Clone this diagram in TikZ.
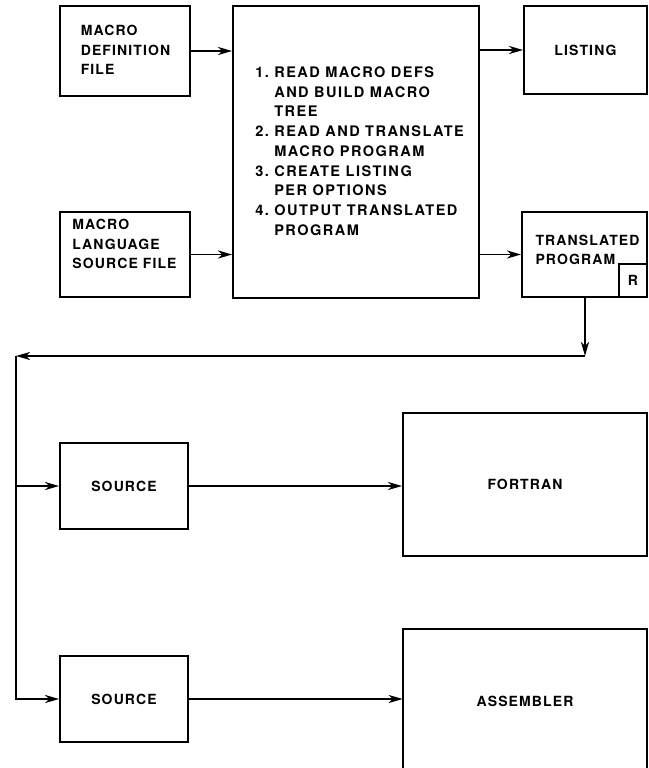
\documentclass[tikz,border=0pt]{standalone}
\usepackage{fontspec}
\setmainfont{TeX Gyre Heros}[LetterSpace=8]
\usetikzlibrary{arrows.meta}
\begin{document}
\begin{tikzpicture}[x=0.75pt,y=-0.75pt,
  box/.style={draw, line width=1.4pt, inner sep=0pt},
  txt/.style={inner sep=0pt, align=left, font=\fontsize{10.5pt}{14.4pt}\selectfont\bfseries},
  arr/.style={line width=1.4pt, -{Stealth[length=10.5pt,width=6pt,inset=3pt]}},
  ln/.style={line width=1.4pt}]
\useasboundingbox (0,0) rectangle (649,768);

% boxes
\node[box, minimum width=130*0.75pt, minimum height=90*0.75pt] (mdef) at (125,51) {};
\node[txt] (mdefT) at (125.5,50) {MACRO\\DEFINITION\\FILE};

\node[box, minimum width=130*0.75pt, minimum height=85*0.75pt] (mlang) at (125,254.5) {};
\node[txt] (mlangT) at (124.5,244) {MACRO\\LANGUAGE\\SOURCE FILE};

\node[box, minimum width=246*0.75pt, minimum height=292*0.75pt] (central) at (356,152) {};
\node[txt, anchor=west, font=\fontsize{10.9pt}{14.8pt}\selectfont\bfseries\addfontfeature{LetterSpace=10}] (centralT) at (255,151)
 {1.~READ MACRO DEFS\\\phantom{1.~}AND BUILD MACRO\\\phantom{1.~}TREE\\2.~READ AND TRANSLATE\\\phantom{2.~}MACRO PROGRAM\\3.~CREATE LISTING\\\phantom{3.~}PER OPTIONS\\4.~OUTPUT TRANSLATED\\\phantom{4.~}PROGRAM};

\node[box, txt, minimum width=123*0.75pt, minimum height=88*0.75pt] (listing) at (585.5,50) {LISTING};

\node[box, minimum width=125*0.75pt, minimum height=85*0.75pt] (trans) at (584.5,254.5) {};
\node[txt] (transT) at (587.5,250) {TRANSLATED\\PROGRAM};
\node[box, txt, minimum width=28*0.75pt, minimum height=33*0.75pt] (rbox) at (633,280.5) {R};

\node[box, txt, minimum width=128*0.75pt, minimum height=86*0.75pt] (src1) at (124,486) {SOURCE};
\node[box, txt, minimum width=244*0.75pt, minimum height=143*0.75pt] (fortran) at (525,484.5) {FORTRAN};

\node[box, txt, minimum width=128*0.75pt, minimum height=86*0.75pt] (src2) at (124,699) {SOURCE};
\node[txt, minimum width=244*0.75pt, minimum height=144*0.75pt] (asm) at (525,701) {ASSEMBLER};
\draw[ln] (asm.south west |- 0,770) -- (asm.north west) -- (asm.north east) -- (asm.east |- 0,770);

% connectors
\draw[arr] (mdef.east) -- (mdef.east -| central.west);
\draw[arr] (mlang.east) -- (mlang.east -| central.west);
\draw[arr] (central.east |- listing.west) -- (listing.west);
\draw[arr] (central.east |- trans.west) -- (trans.west);

\coordinate (drop) at (585,356);
\coordinate (bus) at (16,356);
\draw[arr] (trans.south -| drop) -- (drop);
\draw[arr] (drop) -- (bus);
\draw[arr] (bus) |- (src2.west);
\draw[arr] (bus |- src1.west) -- (src1.west);
\draw[arr] (src1.east) -- (src1.east -| fortran.west);
\draw[arr] (src2.east) -- (src2.east -| asm.west);
\end{tikzpicture}
\end{document}
